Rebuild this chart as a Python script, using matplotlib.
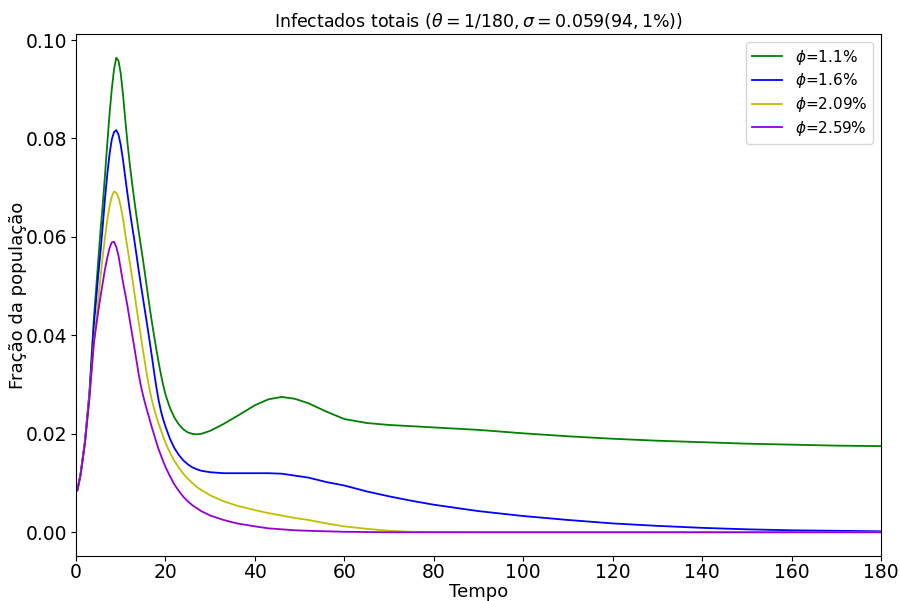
"""
Infectados totais para diferentes valores de phi.
"""
import matplotlib
matplotlib.use('Agg')
import matplotlib.pyplot as plt

# Tempo (dias) e fração de infectados
tempo = [0, 0.3, 1, 2, 3, 4,
         5, 5.5, 6, 6.5, 7, 7.5, 8, 8.5, 9, 9.5, 10, 10.5, 11, 11.5, 12, 12.5,
         13, 13.5, 14, 14.5, 15, 15.5, 16, 16.5, 17, 17.5, 18, 18.5, 19, 19.5, 20,
         21, 22, 23, 24, 25, 26, 27, 28,
         30, 33, 36, 40, 43, 46, 49, 52, 56, 60, 65, 70, 75, 80,
         90, 100, 110, 120, 130, 140, 150, 160, 170, 180]

inf_phi_1_1 = [0.0088, 0.0085, 0.0117, 0.0185, 0.0285, 0.0435,
               0.0555, 0.0615, 0.0668, 0.0728, 0.0790, 0.0850, 0.0900, 0.0940,
               0.0964, 0.0958, 0.0932, 0.0890, 0.0840, 0.0792, 0.0750, 0.0712,
               0.0677, 0.0644, 0.0612, 0.0582, 0.0552, 0.0520, 0.0487, 0.0455,
               0.0425, 0.0397, 0.0370, 0.0344, 0.0320, 0.0299, 0.0280,
               0.0253, 0.0233, 0.0219, 0.0209, 0.0203, 0.0200, 0.0199, 0.0200,
               0.0206, 0.0220, 0.0236, 0.0258, 0.0270, 0.0275, 0.0271, 0.0262,
               0.0245, 0.0230, 0.0222, 0.0218, 0.02155, 0.0213,
               0.0208, 0.0201, 0.0195, 0.0190, 0.0186, 0.0183, 0.0180, 0.0178,
               0.0176, 0.0175]

inf_phi_1_6 = [0.0088, 0.0085, 0.0117, 0.0184, 0.0280, 0.0420,
               0.0525, 0.0572, 0.0625, 0.0680, 0.0728, 0.0768, 0.0798, 0.0813,
               0.0817, 0.0808, 0.0787, 0.0757, 0.0722, 0.0688, 0.0655, 0.0625,
               0.0596, 0.0565, 0.0533, 0.0503, 0.0474, 0.0445, 0.0416, 0.0386,
               0.0355, 0.0323, 0.0293, 0.0267, 0.0246, 0.0229, 0.0215,
               0.0190, 0.0171, 0.0157, 0.0146, 0.0138, 0.0132, 0.0128, 0.0125,
               0.0122, 0.0120, 0.0120, 0.0120, 0.0120, 0.0119, 0.0115, 0.0111,
               0.0102, 0.0095, 0.0083, 0.0073, 0.0064, 0.0056,
               0.0043, 0.0033, 0.0025, 0.0018, 0.0013, 0.0009, 0.0006, 0.0004,
               0.0003, 0.0002]

inf_phi_2_09 = [0.0088, 0.0085, 0.0116, 0.0182, 0.0276, 0.0385,
                0.0475, 0.0520, 0.0563, 0.0600, 0.0635, 0.0662, 0.0682, 0.0692,
                0.0690, 0.0680, 0.0662, 0.0638, 0.0607, 0.0578, 0.0550, 0.0520,
                0.0490, 0.0458, 0.0428, 0.0398, 0.0368, 0.0340, 0.0312, 0.0288,
                0.0267, 0.0250, 0.0234, 0.0220, 0.0207, 0.0194, 0.0182,
                0.0162, 0.0145, 0.0131, 0.0119, 0.0109, 0.0100, 0.0092, 0.0086,
                0.0075, 0.0063, 0.0054, 0.0045, 0.0039, 0.0034, 0.0029, 0.0025,
                0.0018, 0.0012, 0.0007, 0.0003, 0.0001, 0.00005,
                0.0, 0.0, 0.0, 0.0, 0.0, 0.0, 0.0, 0.0, 0.0, 0.0]

inf_phi_2_59 = [0.0088, 0.0085, 0.0115, 0.0180, 0.0272, 0.0385,
                0.0450, 0.0480, 0.0508, 0.0535, 0.0558, 0.0577, 0.0589, 0.0590,
                0.0580, 0.0562, 0.0535, 0.0508, 0.0485, 0.0460, 0.0432, 0.0405,
                0.0378, 0.0350, 0.0322, 0.0298, 0.0278, 0.0260, 0.0244, 0.0228,
                0.0212, 0.0197, 0.0182, 0.0168, 0.0156, 0.0144, 0.0133,
                0.0114, 0.0097, 0.0084, 0.0072, 0.0063, 0.0055, 0.0049, 0.0043,
                0.0034, 0.0025, 0.0018, 0.0012, 0.0008, 0.0006, 0.0004, 0.0003,
                0.0002, 0.0001, 0.00005, 0.0, 0.0, 0.0,
                0.0, 0.0, 0.0, 0.0, 0.0, 0.0, 0.0, 0.0, 0.0, 0.0]

series = [inf_phi_1_1, inf_phi_1_6, inf_phi_2_09, inf_phi_2_59]
rotulos = [r'$\phi$=1.1%', r'$\phi$=1.6%', r'$\phi$=2.09%', r'$\phi$=2.59%']
cores = ['g', 'b', 'y', 'darkviolet']

fig = plt.figure(figsize=(9, 6.01), dpi=100)
ax = fig.add_axes([76 / 900, 45 / 601, 805 / 900, 522 / 601])

for valores, rotulo, cor in zip(series, rotulos, cores):
    ax.plot(tempo, valores, color=cor, label=rotulo, linewidth=1.3)

ax.set_xlim(0, 180)
ax.set_title(r'Infectados totais ($\theta=1/180, \sigma=0.059(94,1\%)$)',
             fontsize=12.5, pad=5)
ax.set_xlabel('Tempo', fontsize=13, labelpad=1)
ax.set_ylabel('Fração da população', fontsize=13, labelpad=-1)
ax.tick_params(axis='x', labelsize=13.5, pad=1.5)
ax.tick_params(axis='y', labelsize=13.5, pad=2.5)
ax.legend(loc='upper right', fontsize=11, labelspacing=0.3)

fig.savefig('out.png', dpi=100)
plt.close(fig)
